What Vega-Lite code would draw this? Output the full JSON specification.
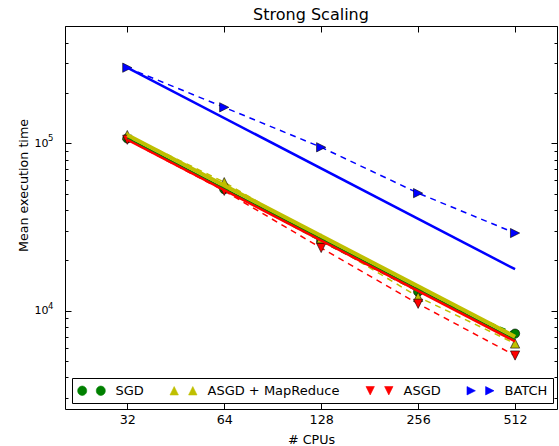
{
  "$schema": "https://vega.github.io/schema/vega-lite/v6.json",
  "width": 492,
  "height": 383,
  "autosize": {"type": "none"},
  "padding": {"left": 65, "top": 26, "right": 2, "bottom": 37},
  "background": "white",
  "title": {"text": "Strong Scaling", "fontSize": 16, "fontWeight": "normal", "font": "DejaVu Sans", "color": "black", "anchor": "middle", "frame": "group", "offset": 3, "baseline": "bottom", "dy": 16},
  "config": {
    "view": {"stroke": "black", "strokeWidth": 1},
    "font": "DejaVu Sans",
    "axis": {"labelFont": "DejaVu Sans", "labelFontSize": 12.7, "labelColor": "black", "tickColor": "black", "tickWidth": 1, "domain": false, "grid": false, "titleFont": "DejaVu Sans", "titleFontWeight": "normal", "titleFontSize": 12.7, "titleColor": "black"}
  },
  "data": {"values": [
    {"series": "SGD", "kind": "measured", "cpus": 32, "time": 107000},
    {"series": "SGD", "kind": "measured", "cpus": 64, "time": 53200},
    {"series": "SGD", "kind": "measured", "cpus": 128, "time": 26000},
    {"series": "SGD", "kind": "measured", "cpus": 256, "time": 13000},
    {"series": "SGD", "kind": "measured", "cpus": 512, "time": 7300},
    {"series": "ASGD + MapReduce", "kind": "measured", "cpus": 32, "time": 112000},
    {"series": "ASGD + MapReduce", "kind": "measured", "cpus": 64, "time": 58600},
    {"series": "ASGD + MapReduce", "kind": "measured", "cpus": 128, "time": 27000},
    {"series": "ASGD + MapReduce", "kind": "measured", "cpus": 256, "time": 12100},
    {"series": "ASGD + MapReduce", "kind": "measured", "cpus": 512, "time": 6370},
    {"series": "ASGD", "kind": "measured", "cpus": 32, "time": 105000},
    {"series": "ASGD", "kind": "measured", "cpus": 64, "time": 52000},
    {"series": "ASGD", "kind": "measured", "cpus": 128, "time": 23700},
    {"series": "ASGD", "kind": "measured", "cpus": 256, "time": 11000},
    {"series": "ASGD", "kind": "measured", "cpus": 512, "time": 5400},
    {"series": "BATCH", "kind": "measured", "cpus": 32, "time": 283000},
    {"series": "BATCH", "kind": "measured", "cpus": 64, "time": 164000},
    {"series": "BATCH", "kind": "measured", "cpus": 128, "time": 94700},
    {"series": "BATCH", "kind": "measured", "cpus": 256, "time": 50400},
    {"series": "BATCH", "kind": "measured", "cpus": 512, "time": 29100},
    {"series": "SGD", "kind": "ideal", "cpus": 32, "time": 107000},
    {"series": "SGD", "kind": "ideal", "cpus": 512, "time": 6690},
    {"series": "ASGD", "kind": "ideal", "cpus": 32, "time": 105000},
    {"series": "ASGD", "kind": "ideal", "cpus": 512, "time": 6560},
    {"series": "ASGD + MapReduce", "kind": "ideal", "cpus": 32, "time": 112000},
    {"series": "ASGD + MapReduce", "kind": "ideal", "cpus": 512, "time": 7000},
    {"series": "BATCH", "kind": "ideal", "cpus": 32, "time": 283000},
    {"series": "BATCH", "kind": "ideal", "cpus": 512, "time": 17700}
  ]},
  "encoding": {
    "x": {"field": "cpus", "type": "quantitative", "scale": {"type": "log", "base": 2, "domain": [20.5, 691], "nice": false}, "axis": null},
    "y": {"field": "time", "type": "quantitative", "scale": {"type": "log", "domain": [2588, 502000], "nice": false}, "axis": null},
    "color": {"field": "series", "type": "nominal",
      "scale": {"domain": ["SGD", "ASGD + MapReduce", "ASGD", "BATCH"], "range": ["#008000", "#bfbf00", "#ff0000", "#0000ff"]},
      "legend": {
        "orient": "none", "legendX": 7, "legendY": 352, "direction": "horizontal", "columns": 4, "title": null,
        "padding": 5, "strokeColor": "black", "fillColor": "white", "cornerRadius": 0, "columnPadding": 24,
        "symbolSize": 196, "symbolOffset": 7, "labelOffset": 16.5, "labelFontSize": 13, "labelFont": "DejaVu Sans", "labelColor": "black", "labelLimit": 300,
        "encode": {"symbols": {"update": {
          "shape": {"signal": "datum.value === 'SGD' ? 'M-1.971,0A0.643,0.643 0 1,0 -0.686,0A0.643,0.643 0 1,0 -1.971,0Z M0.686,0A0.643,0.643 0 1,0 1.971,0A0.643,0.643 0 1,0 0.686,0Z' : datum.value === 'ASGD + MapReduce' ? 'M-1.329,-0.6L-0.729,0.6L-1.929,0.6Z M1.329,-0.6L1.929,0.6L0.729,0.6Z' : datum.value === 'ASGD' ? 'M-1.329,0.6L-0.729,-0.6L-1.929,-0.6Z M1.329,0.6L1.929,-0.6L0.729,-0.6Z' : 'M-0.729,0L-1.929,-0.6L-1.929,0.6Z M1.929,0L0.729,-0.6L0.729,0.6Z'"},
          "fill": {"scale": "color", "field": "value"},
          "fillOpacity": {"value": 1},
          "opacity": {"value": 1},
          "stroke": {"value": "black"},
          "strokeWidth": {"value": 0.6},
          "strokeDash": {"value": []}
        }}}
      }}
  },
  "layer": [
    {
      "transform": [{"filter": "datum.kind === 'measured'"}],
      "mark": {"type": "line", "strokeDash": [6, 5], "strokeWidth": 1.5},
      "encoding": {
        "x": {"field": "cpus", "type": "quantitative", "scale": {"type": "log", "base": 2, "domain": [20.5, 691], "nice": false},
          "axis": {"orient": "bottom", "values": [32, 64, 128, 256, 512], "format": "d", "tickSize": -6, "labelPadding": 10, "title": "# CPUs", "titlePadding": 8}},
        "y": {"field": "time", "type": "quantitative", "scale": {"type": "log", "domain": [2588, 502000], "nice": false},
          "axis": {"orient": "left", "values": [3000, 4000, 5000, 6000, 7000, 8000, 9000, 10000, 20000, 30000, 40000, 50000, 60000, 70000, 80000, 90000, 100000, 200000, 300000, 400000, 500000],
            "labelExpr": "datum.value == 10000 || datum.value == 100000 ? '10' : ''",
            "labelFontSize": 11,
            "tickSize": {"condition": {"test": "datum.value == 10000 || datum.value == 100000", "value": -6}, "value": -3},
            "labelPadding": 23, "title": "Mean execution time", "titleX": -42, "titleY": 159, "titleAngle": 270, "titleBaseline": "middle", "titleAlign": "center"}}
      }
    },
    {
      "transform": [{"filter": "datum.kind === 'measured' && datum.series === 'SGD'"}],
      "mark": {"type": "point", "shape": "circle", "filled": true, "opacity": 1, "size": 85, "stroke": "black", "strokeWidth": 0.6},
      "encoding": {
        "x": {"field": "cpus", "type": "quantitative", "scale": {"type": "log", "base": 2, "domain": [20.5, 691], "nice": false},
          "axis": {"orient": "top", "values": [32, 64, 128, 256, 512], "labels": false, "tickSize": -6, "title": null}},
        "y": {"field": "time", "type": "quantitative", "scale": {"type": "log", "domain": [2588, 502000], "nice": false},
          "axis": {"orient": "right", "values": [3000, 4000, 5000, 6000, 7000, 8000, 9000, 10000, 20000, 30000, 40000, 50000, 60000, 70000, 80000, 90000, 100000, 200000, 300000, 400000, 500000],
            "labels": false, "title": null,
            "tickSize": {"condition": {"test": "datum.value == 10000 || datum.value == 100000", "value": -6}, "value": -3}}}
      }
    },
    {
      "transform": [{"filter": "datum.kind === 'measured' && datum.series === 'ASGD + MapReduce'"}],
      "mark": {"type": "point", "shape": "M0,-1L1,1L-1,1Z", "filled": true, "opacity": 1, "size": 85, "stroke": "black", "strokeWidth": 0.6},
      "encoding": {
        "y": {"field": "time", "type": "quantitative", "scale": {"type": "log", "domain": [2588, 502000], "nice": false},
          "axis": {"orient": "left", "values": [10000, 100000], "ticks": false, "labelFontSize": 8.5,
            "labelExpr": "datum.value == 10000 ? '4' : '5'", "labelPadding": 12, "labelOffset": -5.5, "title": null}}
      }
    },
    {
      "transform": [{"filter": "datum.kind === 'measured' && datum.series === 'ASGD'"}],
      "mark": {"type": "point", "shape": "M0,1L1,-1L-1,-1Z", "filled": true, "opacity": 1, "size": 85, "stroke": "black", "strokeWidth": 0.6}
    },
    {
      "transform": [{"filter": "datum.kind === 'measured' && datum.series === 'BATCH'"}],
      "mark": {"type": "point", "shape": "M1,0L-1,1L-1,-1Z", "filled": true, "opacity": 1, "size": 85, "stroke": "black", "strokeWidth": 0.6}
    },
    {
      "transform": [{"filter": "datum.kind === 'ideal' && datum.series !== 'ASGD + MapReduce'"}],
      "mark": {"type": "line", "strokeWidth": 2.5}
    },
    {
      "transform": [{"filter": "datum.kind === 'ideal' && datum.series === 'ASGD + MapReduce'"}],
      "mark": {"type": "line", "strokeWidth": 4}
    }
  ],
  "resolve": {"axis": {"x": "independent", "y": "independent"}}
}
